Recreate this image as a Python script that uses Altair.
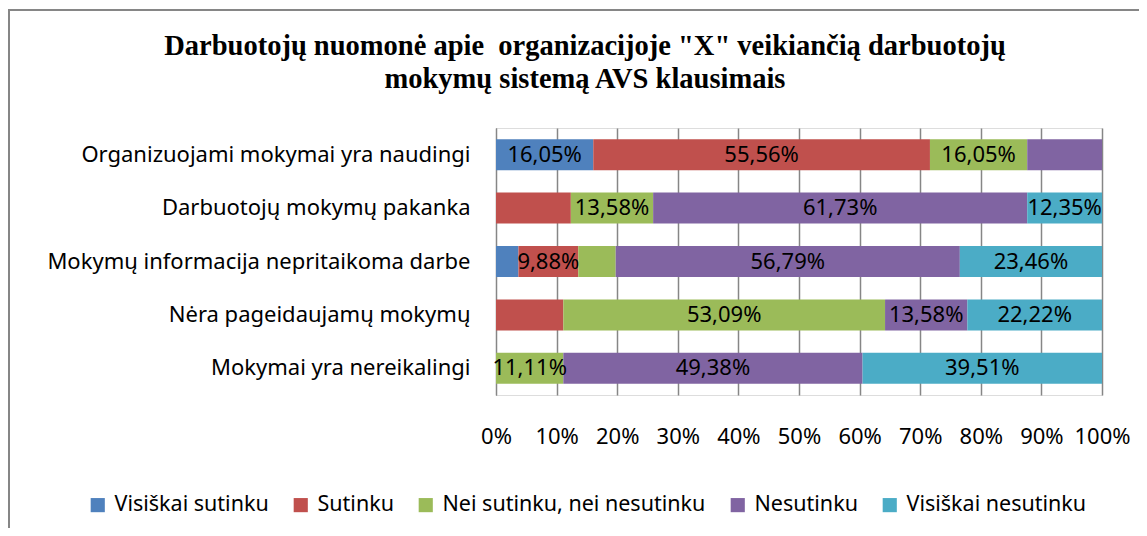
import altair as alt
import pandas as pd

questions = [
    "Organizuojami mokymai yra naudingi",
    "Darbuotojų mokymų pakanka ",
    "Mokymų informacija nepritaikoma darbe",
    "Nėra pageidaujamų mokymų",
    "Mokymai yra nereikalingi",
]
categories = ["Visiškai sutinku", "Sutinku", "Nei sutinku, nei nesutinku", "Nesutinku", "Visiškai nesutinku"]
colors = ["#4F81BD", "#C0504D", "#9BBB59", "#8064A2", "#4BACC6"]

visiskai_sutinku = [16.05, 0.0, 3.70, 0.0, 0.0]
sutinku = [55.56, 12.35, 9.88, 11.11, 0.0]
nei_nei = [16.05, 13.58, 6.17, 53.09, 11.11]
nesutinku = [12.35, 61.73, 56.79, 13.58, 49.38]
visiskai_nesutinku = [0.0, 12.35, 23.46, 22.22, 39.51]

# which segments carry a data label in the original
label_vs = [True, False, False, False, False]
label_s = [True, False, True, False, False]
label_n = [True, True, False, True, True]
label_ne = [False, True, True, True, True]
label_vn = [False, True, True, True, True]

series = [visiskai_sutinku, sutinku, nei_nei, nesutinku, visiskai_nesutinku]
flags = [label_vs, label_s, label_n, label_ne, label_vn]

rows = []
for ci, (cat, vals, fl) in enumerate(zip(categories, series, flags)):
    for qi, q in enumerate(questions):
        rows.append({"question": q, "category": cat, "order": ci, "value": vals[qi], "show": fl[qi]})
df = pd.DataFrame(rows)

FONT = "Noto Sans"
GRID = "#868686"

base = alt.Chart(df).transform_stack(
    stack="value", as_=["x0", "x1"], groupby=["question"], sort=[alt.SortField("order")]
).transform_calculate(
    mid="(datum.x0 + datum.x1) / 2",
    lab="replace(format(datum.value, '.2f'), '.', ',') + '%'",
)

yenc = alt.Y(
    "question:N",
    sort=questions,
    title=None,
    scale=alt.Scale(paddingInner=0.42, paddingOuter=0.21),
    axis=alt.Axis(
        domain=True, domainColor=GRID, domainWidth=1, ticks=False, grid=False,
        labelFont=FONT, labelFontSize=22, labelColor="black", labelPadding=26, labelLimit=500,
    ),
)

bars = base.mark_bar().encode(
    x=alt.X(
        "x0:Q",
        title=None,
        scale=alt.Scale(domain=[0, 100]),
        axis=alt.Axis(
            values=list(range(0, 101, 10)), labelExpr="datum.value + '%'",
            labelOverlap=False, labelFlush=False,
            grid=True, gridColor=GRID, gridWidth=1.5, domain=False, ticks=False,
            labelFont=FONT, labelFontSize=22, labelColor="black", labelPadding=31,
        ),
    ),
    x2="x1:Q",
    y=yenc,
    color=alt.Color(
        "category:N",
        scale=alt.Scale(domain=categories, range=colors),
        legend=alt.Legend(
            title=None, orient="none", legendX=-409, legendY=366, direction="horizontal",
            symbolType="square", symbolSize=200, symbolStrokeWidth=0,
            labelFont=FONT, labelFontSize=21.5, labelColor="black", labelLimit=500,
            columnPadding=21, labelOffset=6,
        ),
    ),
)

texts = base.transform_filter("datum.show").mark_text(
    font=FONT, fontSize=22, color="black", align="center", baseline="middle"
).encode(
    x=alt.X("mid:Q", title=None),
    y=alt.Y("question:N", sort=questions, title=None),
    text="lab:N",
)

frame_df = pd.DataFrame({"k": [0]})
left_border = alt.Chart(frame_df).mark_rule(color=GRID, strokeWidth=2).encode(
    x=alt.value(-487), y=alt.value(-118), y2=alt.value(520)
)
top_border = alt.Chart(frame_df).mark_rule(color=GRID, strokeWidth=2).encode(
    x=alt.value(-488), x2=alt.value(700), y=alt.value(-118)
)

chart = alt.layer(bars, texts, left_border, top_border).properties(
    width=606,
    height=267,
    autosize=alt.AutoSizeParams(type="none"),
    padding={"left": 488, "top": 120, "right": 37, "bottom": 133},
    title=alt.TitleParams(
        text=[
            'Darbuotojų nuomonė apie \u00a0organizacijoje "X" veikiančią darbuotojų',
            "mokymų sistemą AVS klausimais",
        ],
        font="Liberation Serif", fontSize=28.5, fontWeight="bold", color="black",
        anchor="start", frame="group", align="center", dx=89, offset=-84, lineHeight=33,
    ),
).configure_view(stroke=None).configure(background="white")

chart.save("out.html", embed_options={"renderer": "svg", "actions": False})
